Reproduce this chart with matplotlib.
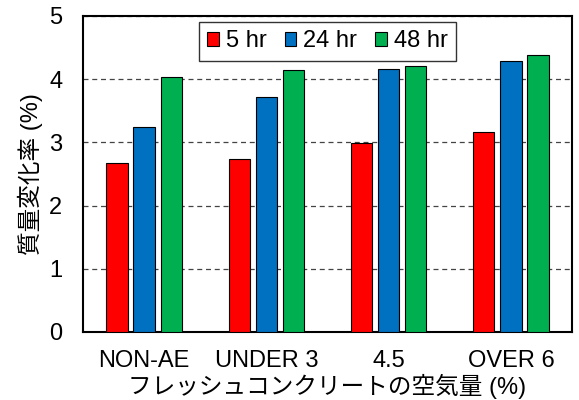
import matplotlib.pyplot as plt
import numpy as np

plt.rcParams['font.family'] = ['Liberation Sans', 'Noto Sans CJK JP']

categories = ["NON-AE", "UNDER 3", "4.5", "OVER 6"]
series_names = ["5 hr", "24 hr", "48 hr"]
val_5hr = [2.67, 2.73, 2.99, 3.17]
val_24hr = [3.24, 3.72, 4.16, 4.29]
val_48hr = [4.03, 4.14, 4.21, 4.38]
colors = ["#FF0000", "#0070C0", "#00B050"]

fig = plt.figure(figsize=(5.79, 4.0), dpi=100)
ax = fig.add_axes([83 / 579, 1 - 332 / 400, 489 / 579, 316 / 400])

x = np.arange(len(categories))
width = 0.175
step = 0.222
for i, (vals, name) in enumerate(zip([val_5hr, val_24hr, val_48hr], series_names)):
    ax.bar(x + (i - 1) * step, vals, width, color=colors[i], edgecolor="black",
           linewidth=0.8, label=name, zorder=3)

ax.set_xlim(-0.5, 3.5)
ax.set_ylim(0, 5)
ax.set_yticks([0, 1, 2, 3, 4, 5])
ax.set_xticks(x)
ax.set_xticklabels(categories)
ax.tick_params(axis="both", length=0, labelsize=17)
ax.tick_params(axis="y", pad=15)
ax.tick_params(axis="x", pad=13)
ax.yaxis.grid(True, linestyle=(0, (4, 3)), color="#444444", linewidth=0.9, zorder=0)
for s in ax.spines.values():
    s.set_linewidth(1.5)

ax.set_ylabel("質量変化率 (%)", fontsize=17, labelpad=4)
ax.set_xlabel("フレッシュコンクリートの空気量 (%)", fontsize=17, labelpad=1)

leg = ax.legend(loc="upper center", ncol=3, fontsize=17, frameon=True, fancybox=False,
                edgecolor="black", handlelength=0.5, handleheight=0.5, handletextpad=0.3,
                columnspacing=0.75, borderpad=0.35, borderaxespad=0,
                bbox_to_anchor=(0.5, 0.981))
leg.get_frame().set_linewidth(1.0)

fig.savefig("out.png", dpi=100)
